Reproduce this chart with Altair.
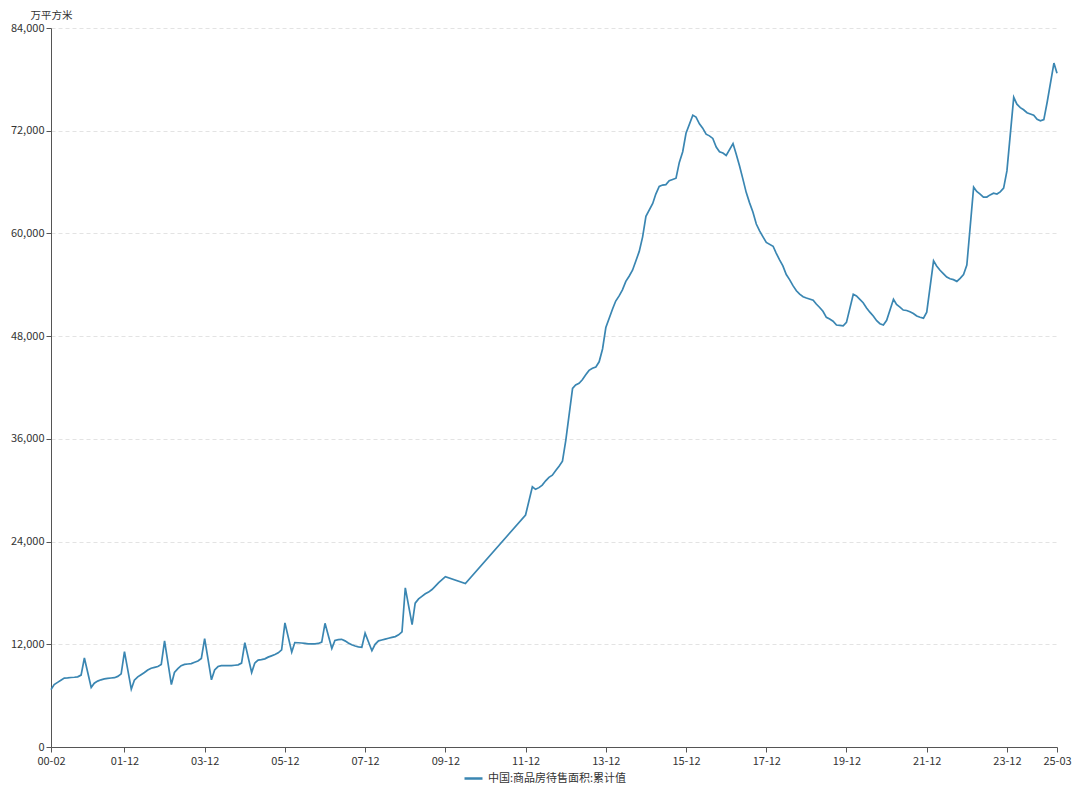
import altair as alt
import pandas as pd

UNIT = "万平方米"
SERIES = "中国:商品房待售面积:累计值"
LINE_COLOR = "#3a86b2"
FONT = "Noto Sans CJK SC"

FEB_DEC = [2, 3, 4, 5, 6, 7, 8, 9, 10, 11, 12]

v2000 = [6700, 7300, 7550, 7800, 8050, 8080, 8120, 8150, 8200, 8400, 10400]
v2001 = [6950, 7450, 7700, 7850, 7950, 8020, 8060, 8100, 8250, 8550, 11150]
v2002 = [6750, 7800, 8200, 8450, 8700, 9000, 9200, 9300, 9400, 9650, 12400]
v2003 = [7300, 8700, 9150, 9500, 9650, 9700, 9750, 9900, 10050, 10350, 12650]
v2004 = [7850, 9000, 9400, 9500, 9500, 9500, 9500, 9550, 9600, 9800, 12200]
v2005 = [8700, 9800, 10150, 10200, 10300, 10500, 10650, 10800, 11000, 11350, 14500]
v2006 = [11100, 12200, 12180, 12150, 12100, 12050, 12050, 12050, 12100, 12250, 14450]
v2007 = [11500, 12450, 12550, 12580, 12400, 12150, 11950, 11800, 11700, 11650, 13300]
v2008 = [11250, 12000, 12400, 12500, 12600, 12700, 12800, 12900, 13100, 13450, 18600]
v2009 = [14300, 16800, 17300, 17600, 17900, 18100, 18400, 18800, 19200, 19550, 19900]
m2010, v2010 = [6], [19100]
m2011, v2011 = [12], [27100]
v2012 = [30400, 30100, 30300, 30600, 31100, 31500, 31750, 32300, 32800, 33400, 35800]
v2013 = [41900, 42300, 42500, 42900, 43500, 44000, 44250, 44400, 45000, 46500, 49000]
v2014 = [51200, 52100, 52700, 53400, 54400, 55000, 55700, 56800, 57900, 59600, 62000]
v2015 = [63500, 64600, 65500, 65650, 65700, 66150, 66300, 66450, 68300, 69550, 71700]
v2016 = [73800, 73600, 72800, 72300, 71600, 71400, 71100, 70100, 69550, 69400, 69100]
v2017 = [70500, 69300, 67900, 66400, 64800, 63600, 62500, 61100, 60300, 59600, 58950]
v2018 = [58500, 57700, 56900, 56200, 55200, 54600, 53900, 53300, 52900, 52600, 52450]
v2019 = [52200, 51750, 51350, 50900, 50200, 50000, 49750, 49300, 49250, 49200, 49600]
v2020 = [52900, 52700, 52300, 51900, 51300, 50800, 50350, 49800, 49450, 49300, 49850]
v2021 = [52300, 51700, 51400, 51050, 51000, 50850, 50650, 50350, 50200, 50100, 50800]
v2022 = [56800, 56200, 55700, 55300, 54900, 54700, 54600, 54400, 54750, 55200, 56300]
v2023 = [65400, 64900, 64600, 64250, 64250, 64500, 64700, 64600, 64850, 65300, 67300]
v2024 = [75900, 75100, 74700, 74450, 74100, 73950, 73800, 73330, 73150, 73300, 75300]
m2025, v2025 = [2, 3], [79900, 78700]

year_blocks = [
    (2000, FEB_DEC, v2000), (2001, FEB_DEC, v2001), (2002, FEB_DEC, v2002),
    (2003, FEB_DEC, v2003), (2004, FEB_DEC, v2004), (2005, FEB_DEC, v2005),
    (2006, FEB_DEC, v2006), (2007, FEB_DEC, v2007), (2008, FEB_DEC, v2008),
    (2009, FEB_DEC, v2009), (2010, m2010, v2010), (2011, m2011, v2011),
    (2012, FEB_DEC, v2012), (2013, FEB_DEC, v2013), (2014, FEB_DEC, v2014),
    (2015, FEB_DEC, v2015), (2016, FEB_DEC, v2016), (2017, FEB_DEC, v2017),
    (2018, FEB_DEC, v2018), (2019, FEB_DEC, v2019), (2020, FEB_DEC, v2020),
    (2021, FEB_DEC, v2021), (2022, FEB_DEC, v2022), (2023, FEB_DEC, v2023),
    (2024, FEB_DEC, v2024), (2025, m2025, v2025),
]


def ms(year, month):
    return int(pd.Timestamp(year=year, month=month, day=1, tz="UTC").value // 10**6)


rows = []
for yr, months, vals in year_blocks:
    for mo, val in zip(months, vals):
        rows.append({"t": ms(yr, mo), "v": val, "s": SERIES})
df = pd.DataFrame(rows)

x_tick_dates = [(2000, 2), (2001, 12), (2003, 12), (2005, 12), (2007, 12), (2009, 12),
                (2011, 12), (2013, 12), (2015, 12), (2017, 12), (2019, 12), (2021, 12),
                (2023, 12), (2025, 3)]
x_ticks = [ms(y, m) for y, m in x_tick_dates]
y_ticks = [0, 12000, 24000, 36000, 48000, 60000, 72000, 84000]

chart = alt.Chart(df).mark_line(strokeWidth=1.7).encode(
    x=alt.X(
        "t:T",
        scale=alt.Scale(type="utc", domain=[ms(2000, 2), ms(2025, 3)], nice=False),
        axis=alt.Axis(
            values=x_ticks,
            labelExpr="utcFormat(datum.value, '%y-%m')",
            title=None,
            grid=False,
            labelOverlap=False,
            labelBound=False,
            labelFlush=False,
            labelColor="#333333",
            labelFontSize=11,
            labelPadding=3,
            tickColor="#555555",
            tickSize=5,
            domainColor="#555555",
        ),
    ),
    y=alt.Y(
        "v:Q",
        scale=alt.Scale(domain=[0, 84000], nice=False),
        axis=alt.Axis(
            values=y_ticks,
            labelExpr="format(datum.value, ',')",
            title=UNIT,
            titleAngle=0,
            titleX=0,
            titleY=-12.5,
            titleAlign="center",
            titleBaseline="middle",
            titleFontSize=10.5,
            titleFontWeight="normal",
            titleColor="#333333",
            labelColor="#333333",
            labelFontSize=11,
            labelPadding=2,
            tickColor="#555555",
            tickSize=5,
            domainColor="#555555",
            grid=True,
            gridDash=[4, 3],
            gridColor="#e3e3e3",
        ),
    ),
    color=alt.Color(
        "s:N",
        scale=alt.Scale(range=[LINE_COLOR]),
        legend=alt.Legend(
            orient="none",
            legendX=412,
            legendY=740,
            title=None,
            symbolType="stroke",
            symbolSize=324,
            symbolStrokeWidth=2.5,
            labelFontSize=11,
            labelColor="#333333",
            padding=0,
        ),
    ),
).properties(
    width=1006,
    height=719,
    autosize=alt.AutoSizeParams(type="none"),
    padding={"left": 43, "top": 20, "right": 15, "bottom": 36},
).configure(
    font=FONT,
).configure_view(
    stroke=None,
)

chart.save("out.html", embed_options={"renderer": "svg", "actions": False})
